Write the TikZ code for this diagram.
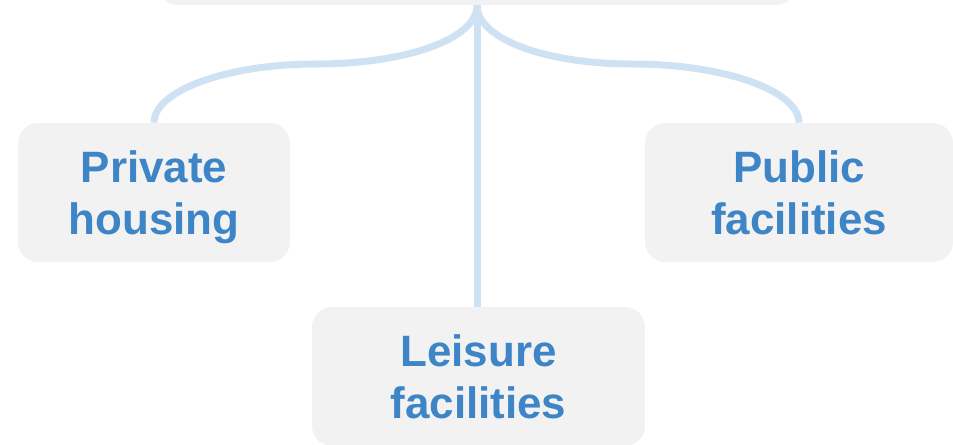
\documentclass[tikz,border=0pt]{standalone}
\usepackage{fontspec}
\setmainfont{Liberation Sans}
\usetikzlibrary{positioning}
\definecolor{boxgray}{HTML}{F2F2F2}
\definecolor{textblue}{HTML}{3D85C6}
\definecolor{linkblue}{HTML}{CFE2F3}

\begin{document}
\begin{tikzpicture}[x=0.02cm,y=-0.02cm]
	\tikzstyle{topic}
	  =[fill=boxgray, rounded corners=0.4cm, text=textblue, align=center,
	  font=\bfseries\fontsize{25}{29.6}\selectfont, text depth=0pt,
	  minimum height=2.78cm, inner sep=0pt]
	\tikzstyle{link}
	  =[draw=linkblue, line width=0.14cm]

	\useasboundingbox (0,0) rectangle (953,444);

	\node[topic, minimum width=12.76cm] (root)
	  at (477,-64.5) {};
	\node[topic, minimum width=5.44cm] (priv)
	  at (154,192.5) {Private\\housing};
	\node[topic, minimum width=6.16cm] (pub)
	  at (799,192.5) {Public\\facilities};
	\node[topic, minimum width=6.66cm] (leis)
	  at (478.5,376.5) {Leisure\\facilities};

	% midpoints of the two curved links
	\coordinate (lmid) at (316,64);
	\coordinate (rmid) at (632,64);

	\draw[link] (root.south) .. controls +(0,34) and +(89,0) .. (lmid)
	  .. controls +(-89,0) and +(0,-32) .. (priv.north);
	\draw[link] (root.south) .. controls +(0,34) and +(-85,0) .. (rmid)
	  .. controls +(92,0) and +(0,-32) .. (pub.north);
	\draw[link] (root.south) -- (root.south |- leis.north);
\end{tikzpicture}
\end{document}
